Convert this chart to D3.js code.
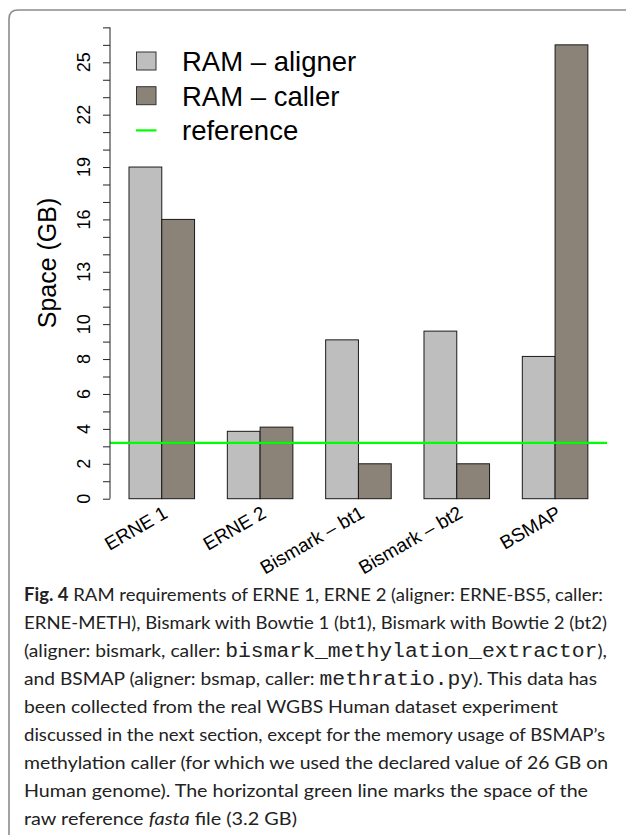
<!DOCTYPE html>
<html>
<head>
<meta charset="utf-8">
<script src="https://cdn.jsdelivr.net/npm/d3@7"></script>
<style>
  html, body { margin: 0; padding: 0; background: #fff; }
  svg { display: block; }
</style>
</head>
<body>
<svg id="chart" width="626" height="835"></svg>
<script>
// ---- data ----
const categories = ["ERNE 1", "ERNE 2", "Bismark \u2013 bt1", "Bismark \u2013 bt2", "BSMAP"];
const seriesNames = ["RAM \u2013 aligner", "RAM \u2013 caller"];
const alignerRAM = [19.0, 3.86, 9.1, 9.6, 8.15];
const callerRAM = [16.0, 4.1, 2.0, 2.0, 26.0];
const referenceSize = 3.2;
const legendLabels = ["RAM \u2013 aligner", "RAM \u2013 caller", "reference"];
const yTickLabels = [0, 2, 4, 6, 8, 10, 13, 16, 19, 22, 25];
const yMinorTicks = [0,1,2,3,4,5,6,7,8,9,10,11,12,13,14,15,16,17,18,19,20,21,22,23,24,25,26,27];
const yTitle = "Space (GB)";
const captionLines = [
  [{t: "Fig. 4", s: "b"}, {t: " RAM requirements of ERNE 1, ERNE 2 (aligner: ERNE-BS5, caller:"}],
  [{t: "ERNE-METH), Bismark with Bowtie 1 (bt1), Bismark with Bowtie 2 (bt2)"}],
  [{t: "(aligner: bismark, caller: "}, {t: "bismark_methylation_extractor", s: "m"}, {t: "),"}],
  [{t: "and BSMAP (aligner: bsmap, caller: "}, {t: "methratio.py", s: "m"}, {t: "). This data has"}],
  [{t: "been collected from the real WGBS Human dataset experiment"}],
  [{t: "discussed in the next section, except for the memory usage of BSMAP\u2019s"}],
  [{t: "methylation caller (for which we used the declared value of 26 GB on"}],
  [{t: "Human genome). The horizontal green line marks the space of the"}],
  [{t: "raw reference "}, {t: "fasta", s: "i"}, {t: " file (3.2 GB)"}]
];
const captionEnds = [603, 607, 607, 597, 558, 605, 608, 588, 297];

// ---- layout ----
const svg = d3.select("#chart");
const colors = ["#bebebe", "#8b8378"];
const sans = "Liberation Sans, Arial, Helvetica, sans-serif";

// frame
svg.append("path")
  .attr("d", "M9,840 L9,19 Q9,10 18,10 L640,10")
  .attr("fill", "none").attr("stroke", "#8c8c8c").attr("stroke-width", 1.6);

const y = d3.scaleLinear().domain([0, 25]).range([498.7, 62.3]);
const x0 = d3.scaleBand().domain(categories)
  .range([129, 129 + 5 * 98.33 - 32.78]).paddingInner(1 / 3).paddingOuter(0);
const x1 = d3.scaleBand().domain(seriesNames).range([0, x0.bandwidth()]);
const axisX = 110, plotRight = 607;

// bars
const groups = svg.append("g").selectAll("g").data(categories).join("g")
  .attr("transform", d => `translate(${x0(d)},0)`);
groups.selectAll("rect")
  .data((d, i) => [alignerRAM[i], callerRAM[i]].map((v, k) => ({ v, k })))
  .join("rect")
  .attr("x", d => x1(seriesNames[d.k]))
  .attr("width", x1.bandwidth())
  .attr("y", d => y(d.v))
  .attr("height", d => y(0) - y(d.v))
  .attr("fill", d => colors[d.k])
  .attr("stroke", "#1a1a1a").attr("stroke-width", 1);

// reference line
svg.append("line")
  .attr("x1", axisX).attr("x2", plotRight)
  .attr("y1", y(referenceSize)).attr("y2", y(referenceSize))
  .attr("stroke", "#00ff00").attr("stroke-width", 2.2);

// y axis: minor ticks every 1, labels at selected values
const yAxisG = svg.append("g").attr("transform", `translate(${axisX},0)`);
yAxisG.call(d3.axisLeft(y).tickValues(yMinorTicks).tickSize(7).tickFormat(""));
yAxisG.select(".domain").attr("d", `M-0,${y(0)}V${y(27)}`).attr("stroke", "#222").attr("stroke-width", 1);
yAxisG.selectAll(".tick line").attr("stroke", "#222");
yAxisG.selectAll(".tick text").remove();
svg.append("g").selectAll("text").data(yTickLabels).join("text")
  .attr("transform", d => `translate(90,${y(d)}) rotate(-90)`)
  .attr("text-anchor", "middle")
  .attr("font-family", sans).attr("font-size", 18).attr("fill", "#000")
  .text(d => d);

// y title
svg.append("text")
  .attr("transform", `translate(56,${263}) rotate(-90)`)
  .attr("text-anchor", "middle")
  .attr("font-family", sans).attr("font-size", 25).attr("fill", "#000")
  .text(yTitle);

// x category labels (rotated)
svg.append("g").selectAll("text").data(categories).join("text")
  .attr("transform", d => `translate(${x0(d) + x0.bandwidth() / 2 + 4},${511}) rotate(-30)`)
  .attr("text-anchor", "end")
  .attr("dominant-baseline", "central")
  .attr("font-family", sans).attr("font-size", 19).attr("fill", "#000")
  .text(d => d);

// legend
const legend = svg.append("g");
const legY = [61, 95.7, 130.4];
legendLabels.forEach((lab, i) => {
  if (i < 2) {
    legend.append("rect")
      .attr("x", 136.5).attr("y", legY[i] - 9).attr("width", 19.5).attr("height", 18)
      .attr("fill", colors[i]).attr("stroke", "#333").attr("stroke-width", 1);
  } else {
    legend.append("line")
      .attr("x1", 136).attr("x2", 156.5).attr("y1", legY[i]).attr("y2", legY[i])
      .attr("stroke", "#00ff00").attr("stroke-width", 2.2);
  }
  legend.append("text")
    .attr("x", 182).attr("y", legY[i] + 9.8)
    .attr("font-family", sans).attr("font-size", 27.5).attr("fill", "#000")
    .text(lab);
});

// caption
const capX = 24, capY0 = 601, capStep = 28;
const cap = svg.append("g");
captionLines.forEach((segs, i) => {
  const t = cap.append("text")
    .attr("x", capX).attr("y", capY0 + i * capStep)
    .attr("font-family", "Lato, 'Open Sans', sans-serif")
    .attr("font-size", 18).attr("fill", "#222")
    .attr("textLength", captionEnds[i] - capX)
    .attr("lengthAdjust", "spacingAndGlyphs");
  segs.forEach(s => {
    const ts = t.append("tspan").text(s.t);
    if (s.s === "b") ts.attr("font-weight", "bold");
    if (s.s === "i") ts.attr("font-style", "italic");
    if (s.s === "m") ts.attr("font-family", "'Liberation Mono', 'Courier New', monospace").attr("font-size", 20);
  });
});
</script>
</body>
</html>
